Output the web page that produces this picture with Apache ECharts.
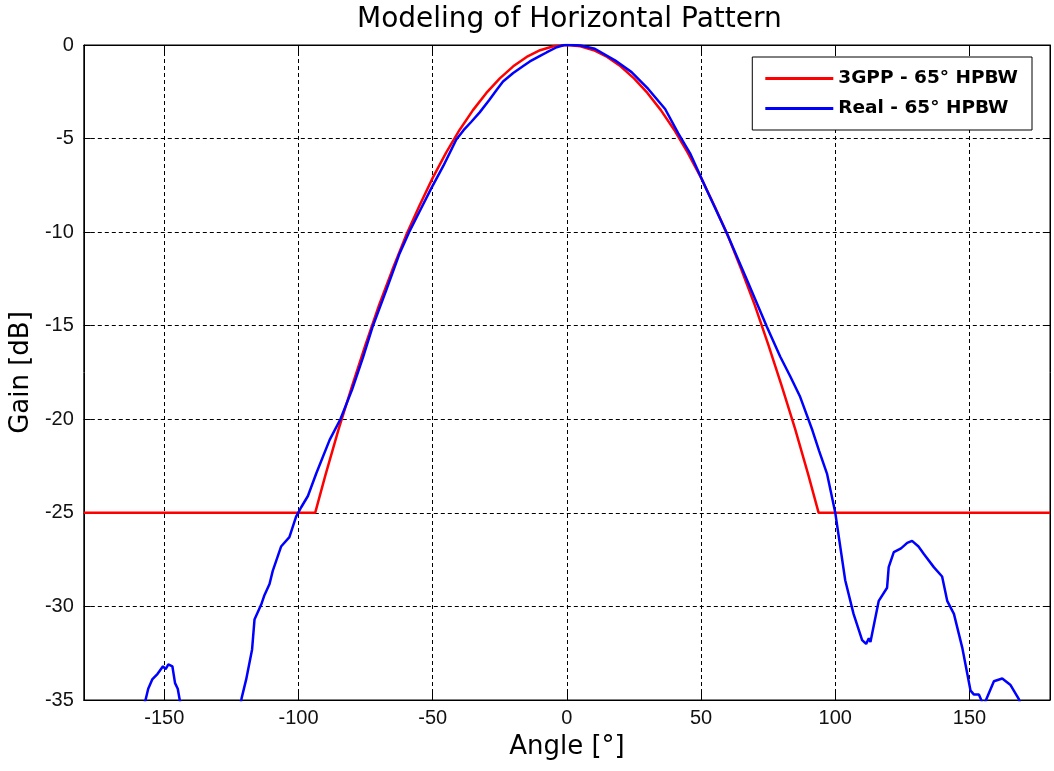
<!DOCTYPE html>
<html>
<head>
<meta charset="utf-8">
<script src="https://cdn.jsdelivr.net/npm/echarts@6/dist/echarts.min.js"></script>
<style>html,body{margin:0;padding:0;background:#fff;}#c{width:1054px;height:771px;}</style>
</head>
<body>
<div id="c"></div>
<script>
const titleText = 'Modeling of Horizontal Pattern';
const xName = 'Angle [°]';
const yName = 'Gain [dB]';
const seriesNames = ['3GPP - 65° HPBW', 'Real - 65° HPBW'];
const xTicks = [-150, -100, -50, 0, 50, 100, 150];
const yTicks = [0, -5, -10, -15, -20, -25, -30, -35];

// 3GPP model
const gppData = [
  [-180,-25],[-93.8,-25],[-90,-23.0],[-85,-20.5],[-80,-18.2],[-75,-16.0],[-70,-13.9],[-65,-12.0],
  [-60,-10.2],[-55,-8.6],[-50,-7.1],[-45,-5.75],[-40,-4.54],[-35,-3.48],[-30,-2.56],[-25,-1.78],
  [-20,-1.14],[-15,-0.64],[-10,-0.28],[-5,-0.07],[0,0],
  [5,-0.07],[10,-0.28],[15,-0.64],[20,-1.14],[25,-1.78],[30,-2.56],[35,-3.48],[40,-4.54],
  [45,-5.75],[50,-7.1],[55,-8.6],[60,-10.2],[65,-12.0],[70,-13.9],[75,-16.0],[80,-18.2],
  [85,-20.5],[90,-23.0],[93.8,-25],[180,-25]
];

const realData = [
  [-180,-38],[-165,-37],[-158.5,-35.6],
  [-157,-35.0],[-156,-34.4],[-154.5,-33.9],[-152.5,-33.6],[-150.5,-33.2],[-149.5,-33.35],
  [-148.5,-33.1],[-147,-33.2],[-146,-34.1],[-145,-34.4],[-144,-35.2],[-143,-36],[-135,-40],
  [-125,-37],[-122,-35.6],
  [-121.2,-34.9],[-119.5,-33.9],[-117.3,-32.3],[-116.4,-30.7],[-113.9,-29.9],[-112.7,-29.4],
  [-110.8,-28.8],[-109.6,-28.1],[-106.5,-26.8],[-103.4,-26.3],[-100.9,-25.2],[-99.0,-24.7],
  [-96.5,-24.1],[-93.4,-22.9],[-88.4,-21.1],[-84.4,-20.0],[-80,-18.4],[-76,-16.7],[-72.5,-15.1],
  [-67.3,-13.1],[-62.5,-11.2],[-58.8,-10.0],[-54.9,-8.9],[-50.5,-7.65],[-46,-6.45],[-41.2,-5.05],
  [-38.5,-4.55],[-35.6,-4.1],[-32.5,-3.6],[-29,-2.95],[-26.2,-2.4],[-23.8,-1.95],[-20,-1.5],
  [-16,-1.1],[-13.8,-0.88],[-10,-0.58],[-7.6,-0.4],[-3.8,-0.12],[-1,0],
  [1.7,0],[5,-0.03],[10.4,-0.2],[17.9,-0.82],[24.1,-1.45],[30.3,-2.35],[36.6,-3.42],
  [41.5,-4.72],[45.9,-5.79],[52.1,-7.75],[59.6,-10.06],[67.1,-12.56],[74.5,-15.05],[79.5,-16.66],
  [83.2,-17.7],[86.9,-18.8],[91.5,-20.6],[94,-21.7],[96.9,-22.9],[100,-25.0],[103.7,-28.6],
  [106.8,-30.4],[110,-31.8],[111.5,-32.0],[112.5,-31.7],[113.1,-31.9],[116.2,-29.7],[119.3,-29.0],
  [119.9,-27.9],[121.8,-27.1],[124.5,-26.9],[126.8,-26.6],[128.6,-26.5],[131,-26.8],[133,-27.2],
  [136.7,-27.9],[139.8,-28.4],[141.7,-29.7],[144.2,-30.4],[147.3,-32.2],[150.4,-34.5],[151.6,-34.7],
  [153.5,-34.7],[154.7,-35.1],[155.3,-35.4],[156,-35.05],[159.1,-34.0],[162.2,-33.85],[165.3,-34.2],
  [168.4,-34.95],[169.5,-35.5],[172,-37],[180,-40]
];

const FONT = 'Liberation Sans';
const WIDE = 'DejaVu Sans';
const chart = echarts.init(document.getElementById('c'), null, {renderer: 'canvas'});
const gridDash = {type: [4, 3], color: '#000', width: 1};
chart.setOption({
  animation: false,
  backgroundColor: '#fff',
  title: {
    text: titleText, left: 352, top: 1,
    textStyle: {fontFamily: WIDE, fontSize: 28, fontWeight: 'normal', color: '#000'}
  },
  legend: {
    right: 22, top: 57, orient: 'vertical',
    backgroundColor: '#fff', borderColor: '#000', borderWidth: 1,
    padding: [12, 14, 12, 13], itemGap: 11,
    icon: 'rect', itemWidth: 68, itemHeight: 3,
    textStyle: {fontFamily: WIDE, fontSize: 18.5, fontWeight: 'bold', color: '#000'},
    data: seriesNames
  },
  grid: {left: 83, right: 4, top: 45, bottom: 71, show: true, borderColor: '#000', borderWidth: 1},
  xAxis: [{
    type: 'value', min: -180, max: 180,
    name: xName, nameLocation: 'middle', nameGap: 34,
    nameTextStyle: {fontFamily: WIDE, fontSize: 26, color: '#000'},
    axisLine: {show: true, onZero: false, lineStyle: {color: '#000'}},
    axisTick: {show: true, inside: true, length: 7, customValues: xTicks, lineStyle: {color: '#000'}},
    axisLabel: {customValues: xTicks, fontFamily: FONT, fontSize: 20, color: '#111', margin: 8},
    splitLine: {show: true, lineStyle: gridDash}
  }, {
    type: 'value', min: -180, max: 180, position: 'top',
    axisLine: {show: true, onZero: false, lineStyle: {color: '#000'}},
    axisTick: {show: true, inside: true, length: 7, customValues: xTicks, lineStyle: {color: '#000'}},
    axisLabel: {show: false}, splitLine: {show: false}
  }],
  yAxis: [{
    type: 'value', min: -35, max: 0, interval: 5,
    name: yName, nameLocation: 'middle', nameGap: 41, nameRotate: 90,
    nameTextStyle: {fontFamily: WIDE, fontSize: 26, color: '#000'},
    axisLine: {show: true, onZero: false, lineStyle: {color: '#000'}},
    axisTick: {show: true, inside: true, length: 7, lineStyle: {color: '#000'}},
    axisLabel: {fontFamily: FONT, fontSize: 20, color: '#111', margin: 10},
    splitLine: {show: true, lineStyle: gridDash}
  }, {
    type: 'value', min: -35, max: 0, interval: 5, position: 'right',
    axisLine: {show: true, onZero: false, lineStyle: {color: '#000'}},
    axisTick: {show: true, inside: true, length: 7, lineStyle: {color: '#000'}},
    axisLabel: {show: false}, splitLine: {show: false}
  }],
  series: [{
    name: seriesNames[0], type: 'line', data: gppData, showSymbol: false, symbol: 'none',
    clip: true, lineStyle: {color: '#ff0000', width: 2.5}, itemStyle: {color: '#ff0000'}, z: 2
  }, {
    name: seriesNames[1], type: 'line', data: realData, showSymbol: false, symbol: 'none',
    clip: true, lineStyle: {color: '#0000ff', width: 2.5}, itemStyle: {color: '#0000ff'}, z: 3
  }]
});
</script>
</body>
</html>
